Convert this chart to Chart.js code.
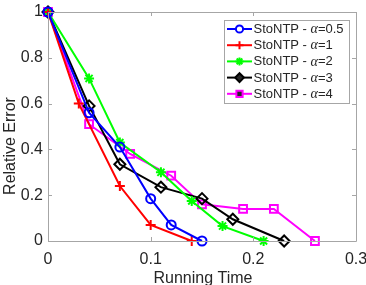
<!DOCTYPE html>
<html>
<head>
<meta charset="utf-8">
<script src="https://cdn.jsdelivr.net/npm/chart.js@4"></script>
<style>
  html, body { margin: 0; padding: 0; background: #fff; }
  #wrap { width: 366px; height: 285px; }
</style>
</head>
<body>
<div id="wrap"><canvas id="myChart" width="366" height="285"></canvas></div>
<script>
// values
const alphas = ["0.5", "1", "2", "3", "4"];

const timeA05 = [0, 0.04, 0.07, 0.10, 0.12, 0.15];
const errA05  = [1, 0.56, 0.41, 0.185, 0.07, 0];

const timeA1 = [0, 0.03, 0.07, 0.10, 0.14];
const errA1  = [1, 0.60, 0.24, 0.07, 0];

const timeA2 = [0, 0.04, 0.07, 0.11, 0.14, 0.17, 0.21];
const errA2  = [1, 0.71, 0.43, 0.30, 0.175, 0.065, 0];

const timeA3 = [0, 0.04, 0.07, 0.11, 0.15, 0.18, 0.23];
const errA3  = [1, 0.59, 0.335, 0.235, 0.185, 0.095, 0];

const timeA4 = [0, 0.04, 0.08, 0.12, 0.15, 0.19, 0.22, 0.26];
const errA4  = [1, 0.51, 0.38, 0.285, 0.16, 0.14, 0.14, 0];

const xTicks = [0, 0.1, 0.2, 0.3];
const yTicks = [0, 0.2, 0.4, 0.6, 0.8, 1];

const colors = ["#0000ff", "#ff0000", "#00ff00", "#000000", "#ff00ff"];
const markers = ["circle", "cross", "star", "rectRot", "rect"];
const radii = [4.5, 5, 5, 5.5, 5.5];

const toPoints = (xs, ys) => xs.map((x, i) => ({ x: x, y: ys[i] }));
const allTimes = [timeA05, timeA1, timeA2, timeA3, timeA4];
const allErrs = [errA05, errA1, errA2, errA3, errA4];

const datasets = alphas.map((a, i) => ({
  label: "StoNTP - \u03b1=" + a,
  data: toPoints(allTimes[i], allErrs[i]),
  borderColor: colors[i],
  borderWidth: 2,
  pointStyle: markers[i],
  pointRadius: radii[i],
  pointBorderColor: colors[i],
  pointBackgroundColor: "rgba(0,0,0,0)",
  pointBorderWidth: 2,
  tension: 0,
  clip: false
}));

const FONT = "'Liberation Sans', Arial, sans-serif";
const TXT = "#262626";
const AXIS = "#a6a6a6";

const matlabPlugin = {
  id: "matlab",
  afterDraw(chart) {
    const ctx = chart.ctx;
    const a = chart.chartArea;
    const xs = chart.scales.x, ys = chart.scales.y;
    ctx.save();
    // box and inward ticks
    ctx.strokeStyle = AXIS;
    ctx.lineWidth = 1;
    ctx.beginPath();
    ctx.rect(a.left + 0.5, a.top + 0.5, a.right - a.left, a.bottom - a.top);
    xTicks.forEach(v => {
      const px = Math.round(xs.getPixelForValue(v)) + 0.5;
      ctx.moveTo(px, a.bottom); ctx.lineTo(px, a.bottom - 4);
      ctx.moveTo(px, a.top); ctx.lineTo(px, a.top + 4);
    });
    yTicks.forEach(v => {
      const py = Math.round(ys.getPixelForValue(v)) + 0.5;
      ctx.moveTo(a.left, py); ctx.lineTo(a.left + 4, py);
      ctx.moveTo(a.right, py); ctx.lineTo(a.right - 4, py);
    });
    ctx.stroke();

    // axis titles
    ctx.fillStyle = TXT;
    ctx.font = "16px " + FONT;
    ctx.textAlign = "center";
    ctx.textBaseline = "alphabetic";
    ctx.fillText("Running Time", (a.left + a.right) / 2 + 1, 283);
    ctx.translate(15, 146);
    ctx.rotate(-Math.PI / 2);
    ctx.fillText("Relative Error", 0, 0);
    ctx.restore();

    // legend
    ctx.save();
    const bx = 224.5, by = 20.5, bw = 125, bh = 83;
    ctx.fillStyle = "#fff";
    ctx.fillRect(bx, by, bw, bh);
    ctx.strokeStyle = AXIS;
    ctx.lineWidth = 1;
    ctx.strokeRect(bx, by, bw, bh);
    datasets.forEach((ds, i) => {
      const cy = 29 + i * 16.2;
      ctx.strokeStyle = ds.borderColor;
      ctx.lineWidth = 2;
      ctx.beginPath();
      ctx.moveTo(227, cy); ctx.lineTo(252, cy);
      ctx.stroke();
      Chart.helpers.drawPoint(ctx, {
        pointStyle: ds.pointStyle, radius: ds.pointRadius * 0.8, rotation: 0,
        borderWidth: 2
      }, 239.5, cy);
      ctx.fillStyle = TXT;
      ctx.textBaseline = "middle";
      ctx.textAlign = "left";
      let x = 253.5;
      const pre = "StoNTP - ";
      ctx.font = "13px " + FONT;
      ctx.fillText(pre, x, cy + 0.5);
      x += ctx.measureText(pre).width;
      ctx.font = "italic 14px 'Liberation Serif', serif";
      ctx.fillText("\u03b1", x, cy + 0.5);
      x += ctx.measureText("\u03b1").width;
      ctx.font = "13px " + FONT;
      ctx.fillText("=" + alphas[i], x, cy + 0.5);
    });
    ctx.restore();
  }
};

new Chart(document.getElementById("myChart"), {
  type: "line",
  data: { datasets },
  options: {
    responsive: false,
    animation: false,
    events: [],
    layout: { padding: { top: 12, right: 10, left: 0, bottom: 0 } },
    plugins: { legend: { display: false }, tooltip: { enabled: false } },
    scales: {
      x: {
        type: "linear", min: 0, max: 0.3,
        grid: { display: false, drawTicks: false },
        border: { display: false },
        ticks: {
          stepSize: 0.1, padding: 9, color: TXT, maxRotation: 0,
          font: { family: FONT, size: 16 },
          callback: v => String(Math.round(v * 10) / 10)
        },
        afterFit: s => { s.height = 44; s.paddingLeft = 0; s.paddingRight = 0; }
      },
      y: {
        min: 0, max: 1,
        grid: { display: false, drawTicks: false },
        border: { display: false },
        ticks: {
          stepSize: 0.2, padding: 5, color: TXT,
          font: { family: FONT, size: 16 },
          callback: v => String(Math.round(v * 10) / 10)
        },
        afterFit: s => { s.width = 48; s.paddingTop = 0; s.paddingBottom = 0; }
      }
    }
  },
  plugins: [matlabPlugin]
});
</script>
</body>
</html>
